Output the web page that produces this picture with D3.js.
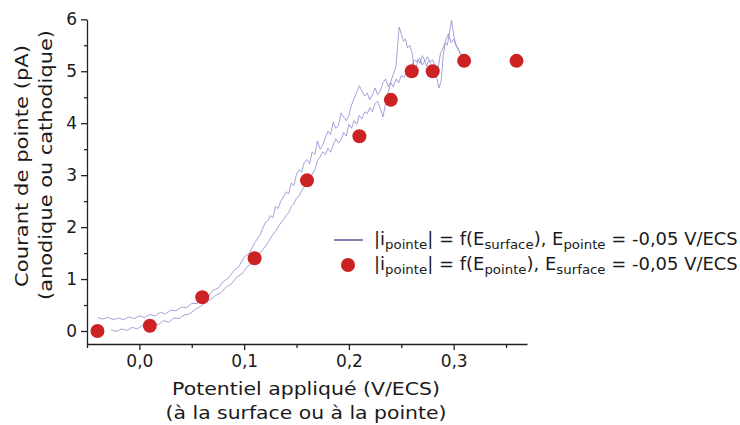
<!DOCTYPE html>
<html><head><meta charset="utf-8">
<script src="https://cdn.jsdelivr.net/npm/d3@7"></script>
<style>body{margin:0;background:#fff}svg{display:block}text{font-family:"DejaVu Sans",Verdana,sans-serif;fill:#1a1a1a}</style>
</head><body>
<script>
// Red points: |i_pointe| = f(E_pointe)
const pointX = [-0.04, 0.01, 0.06, 0.11, 0.16, 0.21, 0.24, 0.26, 0.28, 0.31, 0.36];
const pointY = [0.0, 0.1, 0.65, 1.4, 2.9, 3.75, 4.45, 5.0, 5.0, 5.2, 5.2];

// Trace A (upper branch) of |i_pointe| = f(E_surface)
const traceAx = [-0.040,-0.035,-0.030,-0.025,-0.020,-0.015,-0.010,-0.005,0.000,0.005,0.010,0.015,0.020,0.025,0.030,0.035,0.040,0.045,0.050,0.055,0.060,0.065,0.070,0.075,0.080,0.085,0.090,0.095,0.100,0.105,0.110,0.115,
  0.1200,0.1225,0.1250,0.1275,0.1300,0.1325,0.1350,0.1375,0.1400,0.1425,0.1450,0.1475,0.1500,0.1525,0.1550,0.1575,0.1600,0.1625,0.1650,0.1675,0.1700,0.1725,0.1750,0.1775,0.1800,0.1825,0.1850,0.1875,0.1900,0.1925,0.1950,0.1975,0.2000,0.2025,0.2050,0.2075,0.2100,0.2125,0.2150,0.2175,0.2200,0.2225,0.2250,0.2275,0.2300,0.2325,0.2350,0.2375,0.2400,0.2425,0.2450,0.2465,
  0.248,0.250,0.252,0.254,0.256,0.258,0.260,0.262,0.264,0.266,0.268,0.270,0.272,0.274,0.276,0.278,0.280,0.282,0.284,0.286,0.288,0.290,0.292,0.294,0.296,0.298,0.300,0.302,0.304,0.306,0.308];
const traceAy = [0.26,0.23,0.26,0.22,0.25,0.22,0.27,0.24,0.29,0.26,0.32,0.29,0.36,0.33,0.40,0.39,0.46,0.45,0.53,0.53,0.62,0.65,0.78,0.82,0.95,1.02,1.16,1.24,1.42,1.50,1.70,1.84,
  2.08,2.12,2.22,2.18,2.40,2.36,2.50,2.58,2.68,2.64,2.85,2.80,3.02,3.10,3.06,3.25,3.30,3.22,3.45,3.40,3.66,3.50,3.58,3.72,3.85,3.78,4.02,3.90,3.96,4.20,4.12,4.05,4.15,4.35,4.48,4.60,4.72,4.62,4.52,4.58,4.45,4.55,4.68,4.55,4.62,4.78,4.85,4.70,4.80,4.95,5.10,5.50,
  5.85,5.72,5.58,5.62,5.45,5.50,5.38,5.12,5.05,5.22,5.15,5.30,5.22,5.10,5.20,5.15,5.05,4.98,4.85,4.68,4.80,5.30,5.55,5.50,5.75,5.98,5.70,5.52,5.45,5.35,5.30];

// Trace B (lower branch)
const traceBx = [-0.027,-0.022,-0.017,-0.012,-0.007,-0.002,0.003,0.008,0.013,0.018,0.023,0.028,0.033,0.038,0.043,0.048,0.053,0.058,0.063,0.068,0.073,0.078,0.083,0.088,0.093,0.098,0.103,0.108,0.113,0.1175,
  0.1200,0.1225,0.1250,0.1275,0.1300,0.1325,0.1350,0.1375,0.1400,0.1425,0.1450,0.1475,0.1500,0.1525,0.1550,0.1575,0.1600,0.1625,0.1650,0.1675,0.1700,0.1725,0.1750,0.1775,0.1800,0.1825,0.1850,0.1875,0.1900,0.1925,0.1950,0.1975,0.2000,0.2025,0.2050,0.2075,0.2100,0.2125,0.2150,0.2175,0.2200,0.2225,0.2250,0.2275,0.2300,0.2325,0.2350,0.2375,0.2400,0.2425,0.2450,0.2475,0.2500,0.2525,0.2550,0.2575,0.2600,0.2625,0.2650,0.2675,0.2700,0.2725,0.2750,0.2775,0.2800,0.2825,0.2850,0.2875,0.2900,0.2925,0.2950,0.2975,0.3000,0.3025,0.3050,0.3075,0.3100];
const traceBy = [0.02,-0.01,0.04,0.01,0.07,0.04,0.11,0.08,0.15,0.12,0.20,0.17,0.25,0.24,0.31,0.33,0.41,0.47,0.55,0.61,0.69,0.74,0.85,0.91,1.04,1.10,1.24,1.31,1.45,1.56,
  1.62,1.70,1.78,1.86,1.92,2.00,2.08,2.14,2.22,2.28,2.40,2.45,2.56,2.60,2.70,2.78,2.86,2.92,3.02,3.10,3.28,3.35,3.45,3.40,3.52,3.44,3.58,3.70,3.62,3.68,3.82,3.75,3.98,3.90,4.05,3.98,4.15,4.08,4.22,4.18,4.30,4.22,4.38,4.42,4.28,4.12,4.38,4.60,4.78,4.70,4.85,4.78,4.92,4.88,4.98,5.05,5.12,5.22,5.18,5.25,5.12,5.20,5.28,5.18,5.22,5.10,5.05,5.35,5.45,5.60,5.72,5.55,5.62,5.48,5.40,5.30,5.25];

const xMajor = [0.0, 0.1, 0.2, 0.3];
const xMinor = [-0.05, 0.05, 0.15, 0.25, 0.35];
const yMajor = [0, 1, 2, 3, 4, 5, 6];
const yMinor = [0.5, 1.5, 2.5, 3.5, 4.5, 5.5];

const W = 740, H = 425;
const svg = d3.select("body").append("svg").attr("width", W).attr("height", H);
const x = d3.scaleLinear().domain([-0.05, 0.37]).range([87, 527]);
const y = d3.scaleLinear().domain([-0.25, 6]).range([344, 19.3]);
const fmt = d => d3.format(".1f")(d).replace(".", ",");

// place a text inside a group, stretched horizontally to a target width (wide Verdana-like look)
function wideText(tx, ty, rot, anchor, size, target, build) {
  const g = svg.append("g");
  const t = g.append("text").attr("text-anchor", anchor).attr("font-size", size);
  build(t);
  const s = target / t.node().getComputedTextLength();
  g.attr("transform", `translate(${tx},${ty}) rotate(${rot}) scale(${s.toFixed(4)},1)`);
  return g;
}

// traces
const line = d3.line().x(d => x(d[0])).y(d => y(d[1]));
[[traceAx, traceAy], [traceBx, traceBy]].forEach(([xs, ys]) => {
  svg.append("path").datum(xs.map((v, i) => [v, ys[i]]))
    .attr("d", line).attr("fill", "none")
    .attr("stroke", "#8c8cd0").attr("stroke-width", 1).attr("stroke-opacity", 0.8)
    .attr("stroke-linejoin", "round");
});

// points
svg.append("g").selectAll("circle").data(pointX.map((v, i) => [v, pointY[i]]))
  .join("circle").attr("cx", d => x(d[0])).attr("cy", d => y(d[1])).attr("r", 7)
  .attr("fill", "#cc2224");

// axes
const axColor = "#222";
svg.append("g").attr("transform", `translate(0,${y.range()[0]})`)
  .call(d3.axisBottom(x).tickValues(xMajor).tickFormat(fmt).tickSize(6).tickSizeOuter(0).tickPadding(5));
svg.append("g").attr("transform", `translate(0,${y.range()[0]})`)
  .call(d3.axisBottom(x).tickValues(xMinor).tickFormat("").tickSize(4).tickSizeOuter(0))
  .select(".domain").remove();
svg.append("g").attr("transform", `translate(${x.range()[0]},0)`)
  .call(d3.axisLeft(y).tickValues(yMajor).tickFormat(d3.format("d")).tickSize(6).tickSizeOuter(0).tickPadding(4));
svg.append("g").attr("transform", `translate(${x.range()[0]},0)`)
  .call(d3.axisLeft(y).tickValues(yMinor).tickFormat("").tickSize(3).tickSizeOuter(0))
  .select(".domain").remove();
svg.selectAll(".domain, .tick line").attr("stroke", axColor).attr("stroke-width", 1.3);
svg.selectAll(".tick text").attr("font-size", 17).attr("font-family", "DejaVu Sans").attr("fill", "#1a1a1a");

// axis titles
wideText(306, 395, 0, "middle", 18.5, 268, t => t.text("Potentiel appliqué (V/ECS)"));
wideText(306, 419, 0, "middle", 18.5, 281, t => t.text("(à la surface ou à la pointe)"));
wideText(28, 166, -90, "middle", 18.5, 242, t => t.text("Courant de pointe (pA)"));
wideText(52, 165, -90, "middle", 18.5, 270, t => t.text("(anodique ou cathodique)"));

// legend
function legendText(yb, parts) {
  wideText(374, yb, 0, "start", 17.5, 364, t => {
    parts.forEach(p => {
      if (p.sub) t.append("tspan").attr("font-size", 13).attr("dy", 4).text(p.s);
      else t.append("tspan").attr("dy", p.up ? -4 : 0).text(p.s);
    });
  });
}
svg.append("line").attr("x1", 334).attr("x2", 363).attr("y1", 240).attr("y2", 240)
  .attr("stroke", "#3b3b8a").attr("stroke-width", 1.3);
legendText(245, [{s:"|i"},{s:"pointe",sub:1},{s:"| = f(E",up:1},{s:"surface",sub:1},{s:"), E",up:1},{s:"pointe",sub:1},{s:" = -0,05 V/ECS",up:1}]);
svg.append("circle").attr("cx", 348).attr("cy", 265).attr("r", 7).attr("fill", "#cc2224");
legendText(270, [{s:"|i"},{s:"pointe",sub:1},{s:"| = f(E",up:1},{s:"pointe",sub:1},{s:"), E",up:1},{s:"surface",sub:1},{s:" = -0,05 V/ECS",up:1}]);
</script>
</body></html>
